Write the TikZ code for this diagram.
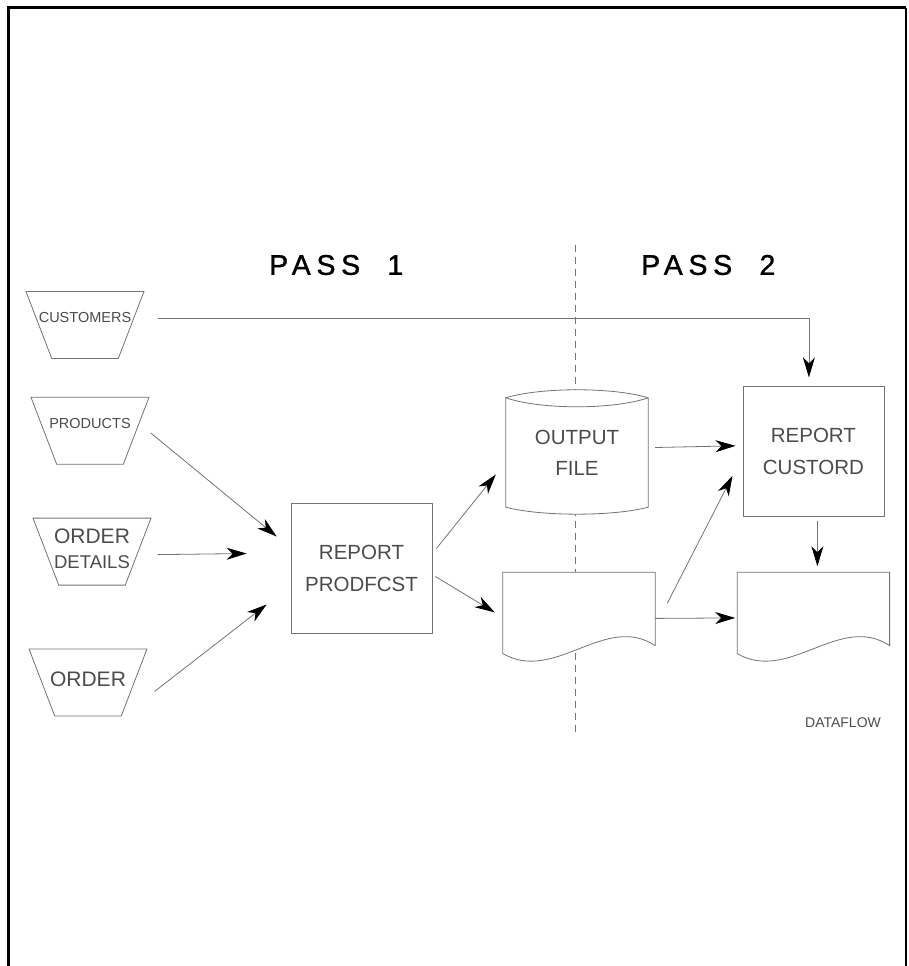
\documentclass[tikz,border=0pt]{standalone}
\usepackage{fontspec}
\setmainfont{Liberation Sans}
\newfontfamily\passfont[LetterSpace=20,FakeBold=1.2]{Liberation Sans}
\usetikzlibrary{shapes,positioning,calc,arrows.meta}
\definecolor{linegray}{gray}{0.45}
\definecolor{textgray}{gray}{0.3}
\newcommand{\fsz}[1]{\fontsize{#1}{#1}\selectfont}
% outline of a printed report, drawn round an empty node
\newcommand{\docshape}[1]{%
  \draw[shapeline,fill=white] (#1.north west) -- (#1.north east)
    -- ([yshift=5pt]#1.south east)
    .. controls ([xshift=-50pt,yshift=38pt]#1.south east) and ([xshift=52pt,yshift=-33pt]#1.south west) ..
    ([yshift=-3pt]#1.south west) -- cycle;}
% outline of a disk file
\newcommand{\cylshape}[1]{%
  \draw[shapeline,fill=white] (#1.north west) -- (#1.south west)
    .. controls ([xshift=35pt,yshift=-9.3pt]#1.south west) and ([xshift=-35pt,yshift=-9.3pt]#1.south east) ..
    (#1.south east) -- (#1.north east)
    .. controls ([xshift=-35pt,yshift=10.7pt]#1.north east) and ([xshift=35pt,yshift=10.7pt]#1.north west) ..
    (#1.north west) -- cycle;
  \draw[shapeline] (#1.north west)
    .. controls ([xshift=35pt,yshift=-12pt]#1.north west) and ([xshift=-35pt,yshift=-12pt]#1.north east) ..
    (#1.north east);}
\tikzset{
  shapeline/.style={draw=linegray,line width=0.8pt},
  flow/.style={draw=linegray,line width=0.8pt,-{Stealth[length=20pt,width=12pt,inset=6pt,black]}},
  store/.style={trapezium,trapezium angle=69,shape border rotate=180,
    trapezium stretches body,shapeline,fill=white,
    minimum width=118pt,inner xsep=0pt,inner ysep=33.5pt},
  storetext/.style={inner sep=0pt,text=textgray,font=\fsz{14.5}},
  report/.style={rectangle,shapeline,fill=white,minimum width=141pt,
    minimum height=130pt,align=center,text=textgray,font=\fontsize{20.5}{32}\selectfont},
  docbox/.style={rectangle,minimum width=152pt,minimum height=78pt,inner sep=0pt},
  dbase/.style={rectangle,minimum width=142pt,minimum height=109pt,inner sep=0pt},
  bigtext/.style={align=center,text=textgray,font=\fontsize{20.5}{31}\selectfont},
  passtext/.style={inner sep=0pt,font=\passfont\fsz{28.5}},
  tagtext/.style={inner sep=0pt,text=textgray,font=\fsz{14}}
}
\begin{document}
\begin{tikzpicture}[x=1pt,y=-1pt]
  \useasboundingbox (0,0) rectangle (908,966);
  \draw[line width=3pt] (8,966) -- (8,8) -- (906,8);
  \draw[line width=1.5pt] (906,8) -- (906,966);

  % the line between the two passes
  \coordinate (divtop) at (575,245);
  \coordinate (divbot) at (575,735);
  \draw[shapeline,dash pattern=on 7pt off 5pt] (divtop) -- (divbot);

  \node [passtext,anchor=west] (pass1) at (269,265) {PASS\ \ 1};
  \node [passtext,anchor=west] (pass2) at (641,265) {PASS\ \ 2};

  % input files
  \node [store,label={[storetext,yshift=7pt]center:CUSTOMERS}] (cust) at (85,325) {};
  \node [store,below=38pt of cust,xshift=5pt,label={[storetext,yshift=7pt]center:PRODUCTS}] (prod) {};
  \node [store,below=53pt of prod,xshift=2pt,label={[storetext,align=center,yshift=3pt,font=\fontsize{21}{25}\selectfont]center:ORDER\\{\fsz{18.5}DETAILS}}] (od) {};
  \node [store,below=63pt of od,xshift=-4pt,label={[storetext,yshift=3.5pt,font=\fsz{21}]center:ORDER}] (ord) {};

  % programs and outputs
  \node [report] (pf) at (361.5,568.5) {REPORT\\PRODFCST};
  \node [dbase] (out) at (577,452.5) {};
  \cylshape{out}
  \node [bigtext] (outtxt) at (out.center) {OUTPUT\\FILE};
  \node [docbox,below=65pt of out,xshift=2pt] (doc1) {};
  \docshape{doc1}
  \node [docbox,right=82pt of doc1] (doc2) {};
  \docshape{doc2}
  \node [report,above=55pt of doc2] (co) {REPORT\\CUSTORD};

  \node [tagtext] (tag) at (843,723) {DATAFLOW};

  \draw[flow] ([xshift=26pt,yshift=7pt]cust.east) -| ([xshift=-4.5pt,yshift=9pt]co.north);
  \draw[flow] ([xshift=14pt,yshift=-2pt]prod.east) -- ([xshift=-14pt,yshift=32pt]pf.west);
  \draw[flow] ([xshift=19pt,yshift=-3pt]od.east) -- ([xshift=-44pt,yshift=15pt]pf.west);
  \draw[flow] ([xshift=20pt,yshift=-9pt]ord.east) -- ([xshift=-24pt,yshift=-36pt]pf.west);
  \draw[flow] ([xshift=4pt,yshift=20pt]pf.east) -- ([xshift=-10pt,yshift=-22pt]out.west);
  \draw[flow] ([xshift=3pt,yshift=-8pt]pf.east) -- ([xshift=-8pt,yshift=-1pt]doc1.west);
  \draw[flow] ([xshift=7pt,yshift=5pt]out.east) -- ([xshift=-7pt,yshift=6pt]co.west);
  \draw[flow] ([xshift=12pt,yshift=8pt]doc1.east) -- ([xshift=-10pt,yshift=-24pt]co.west);
  \draw[flow] ([yshift=-7pt]doc1.east) -- ([xshift=-2pt,yshift=-6.5pt]doc2.west);
  \draw[flow] ([xshift=4pt,yshift=-4pt]co.south) -- ([xshift=4pt,yshift=6pt]doc2.north);

\end{tikzpicture}
\end{document}
